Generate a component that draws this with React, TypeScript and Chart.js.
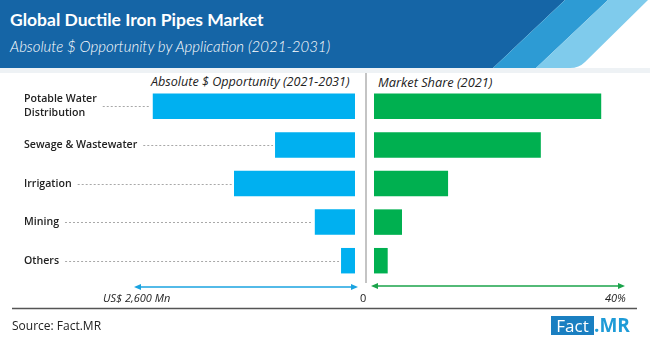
import React, { useEffect, useRef } from "react";
import { Chart, registerables } from "chart.js";

Chart.register(...registerables);

const categories: string[][] = [
  ["Potable Water", "Distribution"],
  ["Sewage & Wastewater"],
  ["Irrigation"],
  ["Mining"],
  ["Others"],
];
const opportunityMn: number[] = [2390, 945, 1430, 475, 165];
const marketSharePct: number[] = [36.5, 26.8, 11.9, 4.5, 2.2];
const opportunityMax = 2600;
const shareMax = 40;
const leftAxisLabel = "US$ 2,600 Mn";
const zeroLabel = "0";
const rightAxisLabel = "40%";

const BLUE = "#00b0f0";
const GREEN = "#00b050";
const LABEL_FONT = "600 10.6px 'Open Sans', sans-serif";

const leaderPlugin = {
  id: "leaders",
  afterDatasetsDraw(chart: any) {
    const ctx = chart.ctx;
    const ys = chart.scales.y;
    const xs = chart.scales.x;
    ctx.save();
    ctx.font = LABEL_FONT;
    ctx.textBaseline = "middle";
    ctx.textAlign = "left";
    categories.forEach((lines, i) => {
      const yc = ys.getPixelForValue(i);
      const lh = 14;
      const start = yc - ((lines.length - 1) * lh) / 2;
      let maxW = 0;
      lines.forEach((ln, k) => {
        ctx.fillStyle = "#222";
        ctx.fillText(ln, 24, start + k * lh);
        maxW = Math.max(maxW, ctx.measureText(ln).width);
      });
      const x0 = 24 + (lines.length > 1 ? ctx.measureText(lines[0]).width : maxW) + 6;
      const x1 = xs.getPixelForValue(opportunityMn[i]) - 2;
      ctx.strokeStyle = "#a8a8a8";
      ctx.lineWidth = 1;
      ctx.setLineDash([2, 2]);
      ctx.beginPath();
      ctx.moveTo(x0, Math.round(yc) + 0.5);
      ctx.lineTo(x1, Math.round(yc) + 0.5);
      ctx.stroke();
    });
    ctx.restore();
  },
};

function BarPanel(props: {
  data: number[];
  max: number;
  color: string;
  reverse: boolean;
  left: number;
  width: number;
  padding: { left: number; right: number; top: number; bottom: number };
  leaders: boolean;
}) {
  const ref = useRef<HTMLCanvasElement>(null);
  useEffect(() => {
    if (!ref.current) return;
    const chart = new Chart(ref.current, {
      type: "bar",
      data: {
        labels: categories.map((c) => c.join(" ")),
        datasets: [
          {
            data: props.data,
            backgroundColor: props.color,
            borderWidth: 0,
            barPercentage: 0.66,
            categoryPercentage: 1,
          },
        ],
      },
      options: {
        indexAxis: "y",
        animation: false,
        responsive: false,
        maintainAspectRatio: false,
        layout: { padding: props.padding },
        plugins: { legend: { display: false }, tooltip: { enabled: false } },
        scales: {
          x: { display: false, min: 0, max: props.max, reverse: props.reverse },
          y: { display: false },
        },
      },
      plugins: props.leaders ? [leaderPlugin] : [],
    });
    return () => chart.destroy();
  }, []);
  return (
    <canvas
      ref={ref}
      width={props.width}
      height={342}
      style={{ position: "absolute", left: props.left, top: 0, width: props.width, height: 342 }}
    />
  );
}

export default function App() {
  const vpad = { top: 87, bottom: 62 };
  return (
    <div
      style={{
        position: "absolute",
        left: 0,
        top: 0,
        width: 650,
        height: 342,
        background: "#fff",
        overflow: "hidden",
        fontFamily: "'Open Sans', sans-serif",
      }}
    >
      <svg width={650} height={75} style={{ position: "absolute", left: 0, top: 0 }}>
        <rect x={0} y={68} width={650} height={5} fill="#eef2f5" />
        <polygon points="0,0 565,0 493,68 0,68" fill="#1565a6" />
        <polygon points="565,0 608,0 536,68 493,68" fill="#2d9bd4" />
        <path d="M608,0 L648,0 L585,62 Q579,68 570,68 L536,68 Z" fill="#7fcbec" />
      </svg>
      <div
        style={{
          position: "absolute",
          left: 10,
          top: 9,
          color: "#fff",
          fontFamily: "Lato, sans-serif",
          fontWeight: 700,
          fontSize: 17.5,
          whiteSpace: "nowrap",
        }}
      >
        Global Ductile Iron Pipes Market
      </div>
      <div
        style={{
          position: "absolute",
          left: 10,
          top: 37,
          color: "#fff",
          fontFamily: "Lato, sans-serif",
          fontStyle: "italic",
          fontWeight: 300,
          fontSize: 15,
          whiteSpace: "nowrap",
        }}
      >
        Absolute $ Opportunity by Application (2021-2031)
      </div>

      <div
        style={{
          position: "absolute",
          left: 151,
          top: 73,
          fontStyle: "italic",
          fontSize: 12.6,
          color: "#222",
          whiteSpace: "nowrap",
        }}
      >
        Absolute $ Opportunity (2021-2031)
      </div>
      <div
        style={{
          position: "absolute",
          left: 378,
          top: 73,
          fontStyle: "italic",
          fontSize: 12.8,
          color: "#222",
          whiteSpace: "nowrap",
        }}
      >
        Market Share (2021)
      </div>

      <BarPanel
        data={opportunityMn}
        max={opportunityMax}
        color={BLUE}
        reverse={true}
        left={0}
        width={360}
        padding={{ left: 135, right: 5, ...vpad }}
        leaders={true}
      />
      <BarPanel
        data={marketSharePct}
        max={shareMax}
        color={GREEN}
        reverse={false}
        left={360}
        width={290}
        padding={{ left: 14, right: 27, ...vpad }}
        leaders={false}
      />

      <svg width={650} height={342} style={{ position: "absolute", left: 0, top: 0 }}>
        <line x1={366} y1={73} x2={366} y2={283} stroke="#c4c4c4" strokeWidth={2} />
        <line x1={139} y1={287} x2={353} y2={287} stroke="#1aa3e0" strokeWidth={1.5} />
        <polygon points="134,287 141,284 141,290" fill="#1aa3e0" />
        <polygon points="358,287 351,284 351,290" fill="#1aa3e0" />
        <line x1={376} y1={286} x2={620} y2={286} stroke="#1aa34a" strokeWidth={1.5} />
        <polygon points="371,286 378,283 378,289" fill="#1aa34a" />
        <polygon points="625,286 618,283 618,289" fill="#1aa34a" />
        <line x1={12} y1={308.5} x2={637} y2={308.5} stroke="#555" strokeWidth={1.5} />
      </svg>

      <div style={{ position: "absolute", left: 103, top: 290, fontStyle: "italic", fontSize: 11, color: "#222", whiteSpace: "nowrap" }}>
        {leftAxisLabel}
      </div>
      <div style={{ position: "absolute", left: 360, top: 290, fontSize: 11, color: "#222" }}>{zeroLabel}</div>
      <div style={{ position: "absolute", left: 605, top: 290, fontStyle: "italic", fontSize: 11, color: "#222" }}>
        {rightAxisLabel}
      </div>

      <div style={{ position: "absolute", left: 12, top: 317, fontSize: 12, color: "#222", whiteSpace: "nowrap" }}>
        Source: Fact.MR
      </div>
      <div
        style={{
          position: "absolute",
          left: 551,
          top: 316,
          height: 19,
          width: 43,
          background: "#1a7fc1",
          color: "#fff",
          fontSize: 17,
          lineHeight: "19px",
          textAlign: "center",
          fontFamily: "'Open Sans', sans-serif",
        }}
      >
        Fact
      </div>
      <div
        style={{
          position: "absolute",
          left: 594,
          top: 314,
          color: "#1e9bd7",
          fontSize: 19,
          fontWeight: 700,
          lineHeight: "22px",
          fontFamily: "'Open Sans', sans-serif",
        }}
      >
        .MR
      </div>
    </div>
  );
}
